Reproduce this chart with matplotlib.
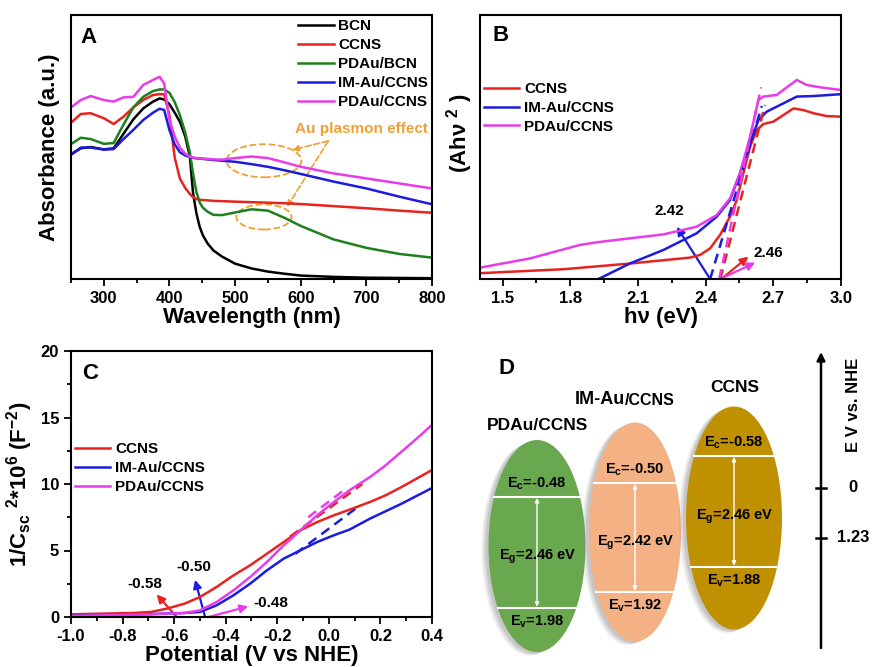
import numpy as np
import matplotlib
matplotlib.use("Agg")
import matplotlib.pyplot as plt
from matplotlib.patches import Ellipse, FancyArrowPatch

plt.rcParams["font.family"] = ["Liberation Sans", "DejaVu Sans"]
plt.rcParams["font.weight"] = "bold"
plt.rcParams["axes.labelweight"] = "bold"
plt.rcParams["mathtext.fontset"] = "custom"
plt.rcParams["mathtext.rm"] = "Liberation Sans:bold"
plt.rcParams["mathtext.it"] = "Liberation Sans:bold"
plt.rcParams["mathtext.bf"] = "Liberation Sans:bold"
plt.rcParams["axes.unicode_minus"] = False
plt.rcParams["axes.linewidth"] = 1.5

BLACK = "#000000"
RED = "#e8231f"
GREEN = "#1d801d"
BLUE = "#1c1ce0"
MAGENTA = "#e83ce8"
ORANGE = "#f0a032"

# ---- panel A: UV-vis absorbance ----
wl = [250, 265, 280, 300, 315, 330, 345, 360, 375, 385, 392, 400, 408, 416,
      424, 431, 436, 441, 446, 451, 458, 467, 480, 500, 525, 550, 575, 600,
      650, 700, 750, 800]
abs_bcn = [0.473, 0.495, 0.500, 0.491, 0.495, 0.550, 0.605, 0.646, 0.672, 0.684,
           0.680, 0.662, 0.630, 0.595, 0.540, 0.466, 0.324, 0.250, 0.198, 0.165,
           0.135, 0.108, 0.085, 0.058, 0.040, 0.028, 0.020, 0.013, 0.008, 0.005,
           0.004, 0.003]
abs_ccns = [0.592, 0.625, 0.628, 0.609, 0.587, 0.615, 0.650, 0.678, 0.697, 0.700,
            0.700, 0.620, 0.460, 0.380, 0.345, 0.322, 0.310, 0.303, 0.300, 0.299,
            0.298, 0.296, 0.295, 0.293, 0.291, 0.289, 0.287, 0.284, 0.276, 0.268,
            0.259, 0.251]
abs_pdau_bcn = [0.511, 0.535, 0.530, 0.512, 0.515, 0.585, 0.650, 0.690, 0.712, 0.718,
                0.718, 0.705, 0.670, 0.620, 0.555, 0.480, 0.400, 0.330, 0.290, 0.270,
                0.255, 0.243, 0.242, 0.252, 0.264, 0.259, 0.232, 0.201, 0.150, 0.118,
                0.095, 0.081]
abs_im_ccns = [0.470, 0.498, 0.498, 0.490, 0.492, 0.530, 0.565, 0.602, 0.630, 0.645,
               0.640, 0.564, 0.510, 0.480, 0.468, 0.462, 0.459, 0.457, 0.456, 0.455,
               0.453, 0.451, 0.448, 0.444, 0.435, 0.425, 0.412, 0.398, 0.369, 0.343,
               0.312, 0.283]
abs_pdau_ccns = [0.650, 0.678, 0.693, 0.678, 0.672, 0.688, 0.690, 0.735, 0.754, 0.766,
                 0.740, 0.602, 0.540, 0.497, 0.475, 0.463, 0.460, 0.458, 0.457, 0.456,
                 0.455, 0.453, 0.452, 0.458, 0.464, 0.458, 0.442, 0.425, 0.400, 0.381,
                 0.362, 0.343]

# ---- panel B: Tauc plot ----
hv_ccns = [1.40, 1.77, 2.07, 2.33, 2.375, 2.42, 2.464, 2.508, 2.538, 2.567, 2.597,
           2.626, 2.656, 2.70, 2.745, 2.789, 2.833, 2.878, 2.937, 3.0]
tauc_ccns = [0.022, 0.037, 0.059, 0.081, 0.091, 0.116, 0.167, 0.236, 0.299, 0.40,
             0.501, 0.564, 0.587, 0.596, 0.621, 0.646, 0.640, 0.628, 0.617, 0.615]
hv_im = [1.925, 2.065, 2.213, 2.36, 2.449, 2.508, 2.552, 2.597, 2.634, 2.671, 2.73,
         2.804, 2.878, 3.0]
tauc_im = [0.0, 0.059, 0.110, 0.173, 0.236, 0.299, 0.40, 0.514, 0.602, 0.634, 0.659,
           0.691, 0.693, 0.700]
hv_pdau = [1.40, 1.622, 1.843, 1.917, 2.065, 2.213, 2.36, 2.449, 2.508, 2.552, 2.597,
           2.634, 2.656, 2.715, 2.76, 2.804, 2.848, 2.908, 3.0]
tauc_pdau = [0.043, 0.078, 0.129, 0.139, 0.154, 0.169, 0.198, 0.242, 0.305, 0.40,
             0.539, 0.678, 0.691, 0.697, 0.726, 0.754, 0.735, 0.726, 0.716]
# tangent fits: (x0, y0, x1, y1)
tangent_b = {"CCNS": (2.465, 0.0, 2.663, 0.659),
             "IM": (2.42, 0.0, 2.649, 0.655),
             "PDAu": (2.46, 0.0, 2.646, 0.726)}

# ---- panel C: Mott-Schottky ----
pot = [-1.0, -0.76, -0.69, -0.63, -0.56, -0.50, -0.435, -0.37, -0.305, -0.24,
       -0.175, -0.11, -0.045, 0.02, 0.08, 0.16, 0.22, 0.28, 0.34, 0.40]
ms_ccns = [0.2, 0.3, 0.38, 0.62, 1.0, 1.5, 2.26, 3.13, 3.89, 4.76,
           5.64, 6.52, 7.14, 7.65, 8.07, 8.65, 9.15, 9.75, 10.4, 11.05]
ms_im = [0.08, 0.18, 0.22, 0.26, 0.3, 0.38, 0.88, 1.63, 2.51, 3.51,
         4.39, 5.02, 5.64, 6.15, 6.57, 7.4, 7.95, 8.5, 9.1, 9.7]
ms_pdau = [0.08, 0.18, 0.2, 0.25, 0.3, 0.5, 1.13, 2.0, 3.01, 4.14,
           5.39, 6.52, 7.65, 8.65, 9.53, 10.53, 11.4, 12.4, 13.4, 14.45]
# visible parts of the dashed tangents: (x0, y0, x1, y1)
tangent_c = {"CCNS": (-0.15, 6.05, 0.13, 10.0),
             "IM": (-0.13, 4.75, 0.114, 8.3),
             "PDAu": (-0.08, 7.5, 0.056, 9.5)}
c_xticks = [-1.0, -0.8, -0.6, -0.4, -0.2, 0.0, 0.2, 0.4]

# ---- panel D: band positions ----
materials = ["PDAu/CCNS", "IM-Au/CCNS", "CCNS"]
e_c = [-0.48, -0.50, -0.58]
e_v = [1.98, 1.92, 1.88]
e_g = [2.46, 2.42, 2.46]
nhe_ticks = [0, 1.23]


def style_axes(ax):
    ax.tick_params(which="both", direction="out", top=False, right=False,
                   width=1.3, labelsize=12)
    ax.tick_params(which="major", length=5)
    ax.tick_params(which="minor", length=3)
    for lab in ax.get_xticklabels() + ax.get_yticklabels():
        lab.set_fontweight("bold")


def arrow(ax, tail, head, color, ls="-", lw=1.6, ms=12):
    p = FancyArrowPatch(tail, head, arrowstyle="-|>", color=color, lw=lw,
                        linestyle=ls, mutation_scale=ms, shrinkA=0, shrinkB=0)
    ax.add_patch(p)


fig = plt.figure(figsize=(8.73, 6.67), dpi=100)

# panel A
ax_a = fig.add_axes([71 / 873, 1 - 279 / 667, 361 / 873, 264 / 667])
ax_a.plot(wl, abs_bcn, color=BLACK, lw=1.8, label="BCN")
ax_a.plot(wl, abs_ccns, color=RED, lw=1.8, label="CCNS")
ax_a.plot(wl, abs_pdau_bcn, color=GREEN, lw=1.8, label="PDAu/BCN")
ax_a.plot(wl, abs_im_ccns, color=BLUE, lw=1.8, label="IM-Au/CCNS")
ax_a.plot(wl, abs_pdau_ccns, color=MAGENTA, lw=1.8, label="PDAu/CCNS")
ax_a.set_xlim(250, 800)
ax_a.set_ylim(0, 1)
ax_a.set_xticks([300, 400, 500, 600, 700, 800])
ax_a.set_xticks(np.arange(250, 801, 50), minor=True)
ax_a.set_yticks([])
ax_a.set_xlabel("Wavelength (nm)", fontsize=16, labelpad=1)
ax_a.set_ylabel("Absorbance (a.u.)", fontsize=16, labelpad=8)
style_axes(ax_a)
ax_a.legend(loc="upper left", bbox_to_anchor=(0.63, 0.983), frameon=False,
            handlelength=2.3, handletextpad=0.3, labelspacing=0.32,
            borderpad=0, borderaxespad=0, prop={"weight": "bold", "size": 11})
ax_a.text(0.025, 0.915, "A", transform=ax_a.transAxes, fontsize=16,
          fontweight="bold", va="center")
ax_a.add_patch(Ellipse((544, 0.448), 114, 0.125, fill=False, ec=ORANGE,
                       lw=1.3, ls="--"))
ax_a.add_patch(Ellipse((544, 0.235), 84, 0.095, fill=False, ec=ORANGE,
                       lw=1.3, ls="--"))
arrow(ax_a, (642, 0.523), (587, 0.489), ORANGE, ls="--", lw=1.2, ms=9)
arrow(ax_a, (642, 0.523), (579, 0.273), ORANGE, ls="--", lw=1.2, ms=9)
ax_a.text(693, 0.568, "Au plasmon effect", color=ORANGE, fontsize=11,
          fontweight="bold", ha="center", va="center")

# panel B
ax_b = fig.add_axes([480 / 873, 1 - 279 / 667, 361 / 873, 264 / 667])
ax_b.plot(hv_ccns, tauc_ccns, color=RED, lw=1.8, label="CCNS")
ax_b.plot(hv_im, tauc_im, color=BLUE, lw=1.8, label="IM-Au/CCNS")
ax_b.plot(hv_pdau, tauc_pdau, color=MAGENTA, lw=1.8, label="PDAu/CCNS")
for key, col in (("CCNS", RED), ("IM", BLUE), ("PDAu", MAGENTA)):
    x0, y0, x1, y1 = tangent_b[key]
    ax_b.plot([x0, x1], [y0, y1], color=col, lw=1.8, ls=(0, (4, 2.5)))
arrow(ax_b, (2.42, 0.0), (2.272, 0.198), BLUE)
arrow(ax_b, (2.47, 0.0), (2.59, 0.085), RED)
arrow(ax_b, (2.465, 0.0), (2.62, 0.062), MAGENTA)
ax_b.text(2.24, 0.257, "2.42", fontsize=11, fontweight="bold", ha="center",
          va="center")
ax_b.text(2.68, 0.10, "2.46", fontsize=11, fontweight="bold", ha="center",
          va="center")
ax_b.set_xlim(1.4, 3.0)
ax_b.set_ylim(0, 1)
ax_b.set_xticks([1.5, 1.8, 2.1, 2.4, 2.7, 3.0])
ax_b.set_xticks(np.arange(1.5, 3.01, 0.15), minor=True)
ax_b.set_yticks([])
ax_b.set_xlabel("h\u03bd (eV)", fontsize=16, labelpad=1)
style_axes(ax_b)
ax_b.legend(loc="upper left", bbox_to_anchor=(0.012, 0.746), frameon=False,
            handlelength=2.3, handletextpad=0.3, labelspacing=0.32,
            borderpad=0, borderaxespad=0, prop={"weight": "bold", "size": 11})
ax_b.text(0.036, 0.924, "B", transform=ax_b.transAxes, fontsize=16,
          fontweight="bold", va="center")
fig.text(460 / 873, 1 - 133 / 667, "(Ah\u03bd $^{2}$ )", rotation=90,
         fontsize=16, fontweight="bold", ha="center", va="center")

# panel C
ax_c = fig.add_axes([71 / 873, 1 - 617 / 667, 361 / 873, 266 / 667])
for key, col in (("CCNS", RED), ("IM", BLUE), ("PDAu", MAGENTA)):
    x0, y0, x1, y1 = tangent_c[key]
    ax_c.plot([x0, x1], [y0, y1], color=col, lw=1.8, ls=(0, (4, 2.5)), zorder=1)
ax_c.plot(pot, ms_ccns, color=RED, lw=1.8, label="CCNS", zorder=2)
ax_c.plot(pot, ms_im, color=BLUE, lw=1.8, label="IM-Au/CCNS", zorder=2)
ax_c.plot(pot, ms_pdau, color=MAGENTA, lw=1.8, label="PDAu/CCNS", zorder=2)
arrow(ax_c, (-0.59, 0.0), (-0.668, 1.7), RED)
arrow(ax_c, (-0.48, 0.0), (-0.519, 2.8), BLUE)
arrow(ax_c, (-0.467, 0.0), (-0.312, 0.8), MAGENTA)
ax_c.text(-0.713, 2.46, "-0.58", fontsize=11, fontweight="bold", ha="center",
          va="center")
ax_c.text(-0.523, 3.76, "-0.50", fontsize=11, fontweight="bold", ha="center",
          va="center")
ax_c.text(-0.293, 1.05, "-0.48", fontsize=11, fontweight="bold", ha="left",
          va="center")
ax_c.set_xlim(-1.0, 0.4)
ax_c.set_ylim(0, 20)
ax_c.set_xticks(c_xticks)
ax_c.set_xticklabels([f"{t:.1f}" for t in c_xticks])
ax_c.set_xticks(np.arange(-1.0, 0.41, 0.1), minor=True)
ax_c.set_yticks([0, 5, 10, 15, 20])
ax_c.set_yticks(np.arange(0, 20.1, 2.5), minor=True)
ax_c.set_xlabel("Potential (V vs NHE)", fontsize=16, labelpad=1)
ax_c.set_ylabel("1/C$_{sc}$ $^{2}$*10$^{6}$ (F$^{-2}$)", fontsize=16, labelpad=4)
style_axes(ax_c)
ax_c.legend(loc="upper left", bbox_to_anchor=(0.012, 0.657), frameon=False,
            handlelength=2.3, handletextpad=0.3, labelspacing=0.32,
            borderpad=0, borderaxespad=0, prop={"weight": "bold", "size": 11})
ax_c.text(0.03, 0.917, "C", transform=ax_c.transAxes, fontsize=16,
          fontweight="bold", va="center")

# panel D: schematic band diagram in pixel-like coordinates
ax_d = fig.add_axes([440 / 873, 0, 433 / 873, 337 / 667])
ax_d.set_xlim(440, 873)
ax_d.set_ylim(667, 330)
ax_d.axis("off")

d_cx = [537, 635, 734]
d_cy = [546, 532, 518]
d_w = [97, 92, 96]
d_h = [212, 219, 223]
d_zero = [518.6, 505.5, 482.1]   # where 0 V sits inside each ellipse
d_scale = 45                     # px per eV inside the ellipses
d_fill = ["#6aa84f", "#f4b183", "#bf9000"]
d_title = [(537, 425), (627, 398), (735, 387)]

for i, name in enumerate(materials):
    cx, cy, w, h = d_cx[i], d_cy[i], d_w[i], d_h[i]
    for off, al in ((7, 0.15), (5, 0.2), (3, 0.25)):
        ax_d.add_patch(Ellipse((cx - off, cy + off * 0.5), w, h,
                               color="#8c8c8c", alpha=al, lw=0))
    ax_d.add_patch(Ellipse((cx, cy), w, h, color=d_fill[i], lw=0))
    yc = d_zero[i] + d_scale * e_c[i]
    yv = d_zero[i] + d_scale * e_v[i]
    for yy in (yc, yv):
        half = (w / 2) * np.sqrt(max(0.0, 1 - ((yy - cy) / (h / 2)) ** 2))
        ax_d.plot([cx - half, cx + half], [yy, yy], color="white", lw=1.5)
    ax_d.annotate("", xy=(cx, yv - 1), xytext=(cx, yc + 1),
                  arrowprops=dict(arrowstyle="<|-|>", color="white", lw=1.0,
                                  mutation_scale=6, shrinkA=0, shrinkB=0))
    ax_d.text(cx, yc - 13, f"E$_{{c}}$={e_c[i]:.2f}", fontsize=10.5,
              fontweight="bold", ha="center", va="center")
    ax_d.text(cx + 1, (yc + yv) / 2 + 5, f"E$_{{g}}$={e_g[i]:.2f} eV",
              fontsize=10.5, fontweight="bold", ha="center", va="center")
    ax_d.text(cx, yv + 14, f"E$_{{v}}$={e_v[i]:.2f}", fontsize=10.5,
              fontweight="bold", ha="center", va="center")

ax_d.text(d_title[0][0], d_title[0][1], materials[0], fontsize=12.5,
          fontweight="bold", ha="center", va="center")
ax_d.text(625, 404, "IM-Au", fontsize=13, fontweight="bold", ha="right",
          va="baseline")
ax_d.text(625, 405, "/CCNS", fontsize=11.5, fontweight="bold", ha="left",
          va="baseline")
ax_d.text(d_title[2][0], d_title[2][1], materials[2], fontsize=12.5,
          fontweight="bold", ha="center", va="center")
ax_d.text(506, 369, "D", fontsize=16, fontweight="bold", ha="center",
          va="center")

# NHE scale arrow
axis_x = 821
axis_zero = 488
axis_scale = 50 / 1.23
ax_d.annotate("", xy=(axis_x, 352), xytext=(axis_x, 648),
              arrowprops=dict(arrowstyle="-|>", color="black", lw=1.8,
                              mutation_scale=12, shrinkA=0, shrinkB=0))
for t in nhe_ticks:
    ty = axis_zero + axis_scale * t
    ax_d.plot([axis_x - 5, axis_x + 5], [ty, ty], color="black", lw=1.8)
    ax_d.text(853, ty, "0" if t == 0 else f"{t:.2f}", fontsize=12,
              fontweight="bold", ha="center", va="center")
ax_d.text(853, 405, "E V vs. NHE", rotation=90, fontsize=12, fontweight="bold",
          ha="center", va="center")

fig.savefig("out.png", dpi=100)
